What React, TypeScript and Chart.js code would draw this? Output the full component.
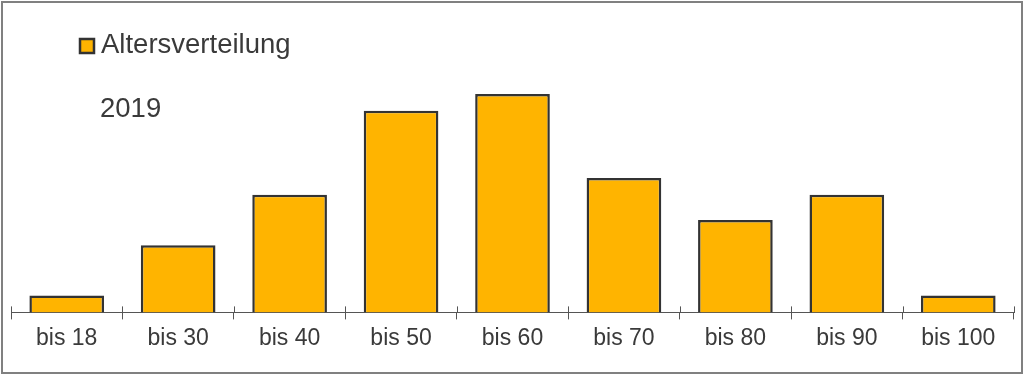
import React, { useEffect, useRef } from "react";
import { Chart, registerables } from "chart.js";

Chart.register(...registerables);

const categories: string[] = ["bis 18", "bis 30", "bis 40", "bis 50", "bis 60", "bis 70", "bis 80", "bis 90", "bis 100"];
const values: number[] = [2, 8, 14, 24, 26, 16, 11, 14, 2];
const seriesLabel = "Altersverteilung";
const yearLabel = "2019";

const FONT = "'Liberation Sans', Arial, sans-serif";
const TEXT = "#3a3a3a";
const BAR = "#FFB400";
const EDGE = "#333333";

const overlayPlugin = {
  id: "overlay",
  afterDraw(chart: any) {
    const ctx = chart.ctx;
    const x = chart.scales.x;
    const area = chart.chartArea;
    ctx.save();
    // upward tick parts
    ctx.strokeStyle = "#555555";
    ctx.lineWidth = 1;
    const n = categories.length;
    const step = (x.right - x.left) / n;
    for (let i = 0; i <= n; i++) {
      const px = Math.round(x.left + i * step) + 0.5;
      ctx.beginPath();
      ctx.moveTo(px, area.bottom - 6);
      ctx.lineTo(px, area.bottom);
      ctx.stroke();
    }
    // legend
    ctx.fillStyle = BAR;
    ctx.fillRect(80, 39, 14, 14);
    ctx.strokeStyle = EDGE;
    ctx.lineWidth = 2.5;
    ctx.strokeRect(80, 39, 14, 14);
    ctx.fillStyle = TEXT;
    ctx.font = `27.5px ${FONT}`;
    ctx.textBaseline = "alphabetic";
    ctx.textAlign = "left";
    ctx.fillText(chart.data.datasets[0].label, 101, 53);
    ctx.fillText(yearLabel, 100, 117);
    ctx.restore();
  },
};

export default function App() {
  const ref = useRef<HTMLCanvasElement | null>(null);
  useEffect(() => {
    if (!ref.current) return;
    const chart = new Chart(ref.current, {
      type: "bar",
      data: {
        labels: categories,
        datasets: [
          {
            label: seriesLabel,
            data: values,
            backgroundColor: BAR,
            borderColor: EDGE,
            borderWidth: 2.5,
            barPercentage: 0.67,
            categoryPercentage: 1,
          },
        ],
      },
      options: {
        animation: false,
        responsive: false,
        maintainAspectRatio: false,
        layout: { padding: { left: 11, right: 10, top: 10, bottom: 19 } },
        plugins: { legend: { display: false }, tooltip: { enabled: false } },
        scales: {
          x: {
            grid: { display: true, drawOnChartArea: false, tickLength: 7, color: "#555555", lineWidth: 1 },
            border: { display: true, color: "#555555", width: 1 },
            ticks: { color: TEXT, font: { family: FONT, size: 23 }, padding: 5, maxRotation: 0 },
          },
          y: { display: false, min: 0, max: 36 },
        },
      },
      plugins: [overlayPlugin],
    });
    return () => chart.destroy();
  }, []);
  return (
    <div style={{ position: "fixed", left: 0, top: 0, width: 1024, height: 376, background: "#fff" }}>
      <canvas ref={ref} width={1024} height={376} style={{ position: "absolute", left: 0, top: 0 }} />
      <div
        style={{
          position: "absolute",
          left: 1,
          top: 1,
          width: 1018,
          height: 369,
          border: "2px solid #808080",
          pointerEvents: "none",
        }}
      />
    </div>
  );
}
